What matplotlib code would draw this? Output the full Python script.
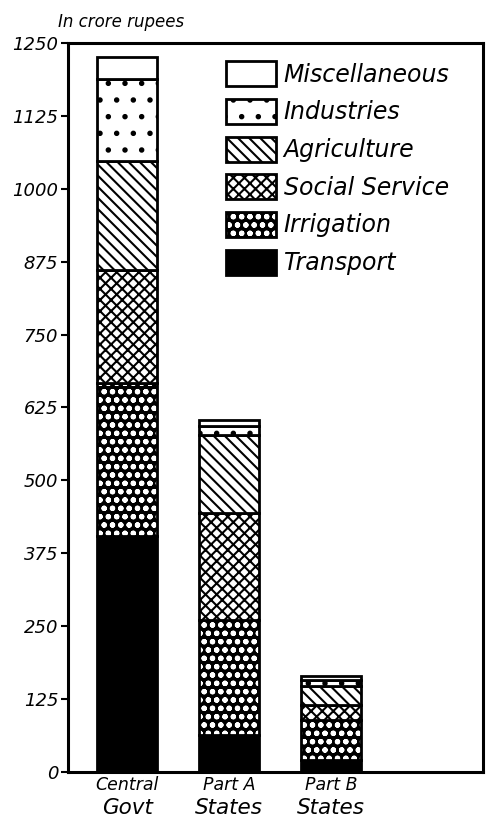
import matplotlib.pyplot as plt
import numpy as np

# outlay by head of development, in crore rupees
groups_top = ["Central", "Part A", "Part B"]
groups_bottom = ["Govt", "States", "States"]

heads = ["Transport", "Irrigation", "Social Service",
         "Agriculture", "Industries", "Miscellaneous"]

transport = [405, 63, 21]
irrigation = [262, 198, 68]
social_service = [194, 183, 26]
agriculture = [187, 134, 32]
industries = [140, 15, 11]
miscellaneous = [38, 11, 7]

y_ticks = [0, 125, 250, 375, 500, 625, 750, 875, 1000, 1125, 1250]

series = [transport, irrigation, social_service, agriculture, industries, miscellaneous]

# face colour, hatch colour, hatch
styles = {
    "Transport": ("black", "black", None),
    "Irrigation": ("black", "white", "oo.."),
    "Social Service": ("white", "black", "xxx"),
    "Agriculture": ("white", "black", "\\\\\\"),
    "Industries": ("white", "black", "."),
    "Miscellaneous": ("white", "black", None),
}

plt.rcParams["hatch.linewidth"] = 1.5
plt.rcParams["font.family"] = ["DejaVu Sans"]
plt.rcParams["font.style"] = "italic"

fig = plt.figure(figsize=(4.89, 8.25), dpi=100)
ax = fig.add_axes([68 / 489, 53 / 825, 415 / 489, 729 / 825])

x = np.arange(len(groups_top))
width = 0.59
bottom = np.zeros(len(x))
handles = {}
for name, vals in zip(heads, series):
    fc, hc, hatch = styles[name]
    fill = ax.bar(x, vals, width, bottom=bottom, color=fc, edgecolor=hc,
                  hatch=hatch, linewidth=0)
    edge = ax.bar(x, vals, width, bottom=bottom, fill=False,
                  edgecolor="black", linewidth=2)
    handles[name] = (fill[0], edge[0])
    bottom += np.array(vals)

ax.set_xlim(-0.58, 3.49)
ax.set_ylim(0, 1250)
ax.set_yticks(y_ticks)
ax.set_yticklabels([str(t) for t in y_ticks], fontsize=13)
ax.set_xticks([])
ax.tick_params(axis="y", direction="out", length=5, width=1.5, pad=2)
for s in ax.spines.values():
    s.set_linewidth(2.2)

# category labels, two lines of different size
trans = ax.get_xaxis_transform()
for i in x:
    ax.text(i, -0.006, groups_top[i], transform=trans, ha="center", va="top",
            fontsize=12.5)
    ax.text(i, -0.036, groups_bottom[i], transform=trans, ha="center", va="top",
            fontsize=15.5)

ax.text(-0.025, 1.016, "In crore rupees", transform=ax.transAxes,
        ha="left", va="bottom", fontsize=12)

order = heads[::-1]
ax.legend([handles[n] for n in order], order, loc="upper left",
          bbox_to_anchor=(0.38, 0.975), frameon=False, fontsize=17,
          handlelength=2.15, handleheight=1.25, labelspacing=0.52,
          handletextpad=0.3, borderpad=0, borderaxespad=0)

fig.savefig("out.png", dpi=100)
